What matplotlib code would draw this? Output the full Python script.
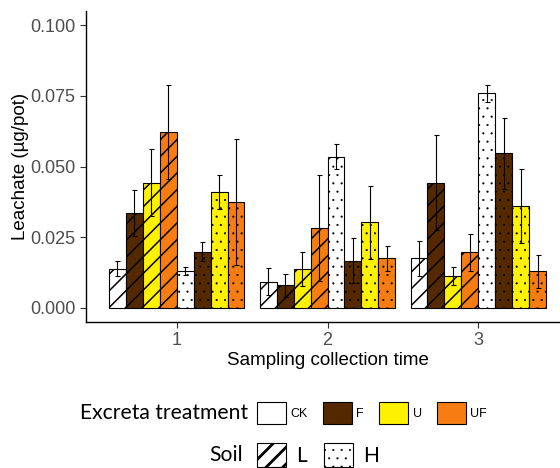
import matplotlib
matplotlib.use("Agg")
import matplotlib.pyplot as plt
from matplotlib.patches import Patch
import numpy as np

# sampling collection times
times = [1, 2, 3]
treatments = ["CK", "F", "U", "UF"]
soils = ["L", "H"]
colors = {"CK": "#ffffff", "F": "#552900", "U": "#fff200", "UF": "#f77d12"}
hatches = {"L": "//", "H": ".."}
hatch_lw = {"L": 1.1, "H": 0.3}
key_hatch_lw = {"L": 2.0, "H": 0.3}

# mean leachate (ug/pot), one list per treatment x soil, over the 3 times
means = {
    ("CK", "L"): [0.0139, 0.0092, 0.0176],
    ("F", "L"): [0.0335, 0.0080, 0.0443],
    ("U", "L"): [0.0443, 0.0136, 0.0113],
    ("UF", "L"): [0.0623, 0.0283, 0.0196],
    ("CK", "H"): [0.0132, 0.0535, 0.0759],
    ("F", "H"): [0.0199, 0.0167, 0.0547],
    ("U", "H"): [0.0410, 0.0302, 0.0360],
    ("UF", "H"): [0.0376, 0.0176, 0.0129],
}
errors = {
    ("CK", "L"): [0.0026, 0.0048, 0.0062],
    ("F", "L"): [0.0081, 0.0041, 0.0168],
    ("U", "L"): [0.0118, 0.0060, 0.0033],
    ("UF", "L"): [0.0167, 0.0187, 0.0065],
    ("CK", "H"): [0.0014, 0.0045, 0.0031],
    ("F", "H"): [0.0033, 0.0079, 0.0126],
    ("U", "H"): [0.0059, 0.0128, 0.0131],
    ("UF", "H"): [0.0223, 0.0044, 0.0057],
}

plt.rcParams["hatch.color"] = "black"
plt.rcParams["font.family"] = ["Liberation Sans", "DejaVu Sans"]


def set_hatch_lw(patch, lw):
    if hasattr(patch, "set_hatch_linewidth"):
        patch.set_hatch_linewidth(lw)
    else:
        patch._hatch_linewidth = lw


fig = plt.figure(figsize=(5.6, 4.68), dpi=100)
ax = fig.add_axes([86 / 560, 146 / 468, 483 / 560, 311 / 468])

width = 0.1125
order = [(t, s) for s in soils for t in treatments]
x = np.array(times, dtype=float)
for i, (t, s) in enumerate(order):
    pos = x + (i - 3.5) * width
    bars = ax.bar(pos, means[(t, s)], width=width, color=colors[t], edgecolor="black",
                  linewidth=0.8, hatch=hatches[s], zorder=2)
    for b in bars:
        set_hatch_lw(b, hatch_lw[s])
    ax.errorbar(pos, means[(t, s)], yerr=errors[(t, s)], fmt="none",
                ecolor="black", elinewidth=0.8, capsize=1.8, capthick=0.8, zorder=3)

ax.set_xlim(0.4, 3.6)
ax.set_ylim(-0.005, 0.105)
ax.set_xticks(times)
ax.set_yticks([0, 0.025, 0.05, 0.075, 0.1])
ax.set_yticklabels(["0.000", "0.025", "0.050", "0.075", "0.100"])
ax.tick_params(colors="#333333", labelcolor="#4d4d4d", labelsize=13, length=4, width=0.8)
for side in ["top", "right"]:
    ax.spines[side].set_visible(False)
for side in ["left", "bottom"]:
    ax.spines[side].set_linewidth(1.0)
ax.set_xlabel("Sampling collection time", fontsize=13.5, labelpad=2)
ax.set_ylabel("Leachate (µg/pot)", fontsize=13.5, labelpad=1)

# legends
trt_handles = [Patch(facecolor=colors[t], edgecolor="black", linewidth=0.8) for t in treatments]
leg1 = fig.legend(trt_handles, treatments, loc="center left", bbox_to_anchor=(257 / 560, 1 - 413 / 468),
                  ncol=4, frameon=False, prop={"family": "Liberation Sans", "size": 9},
                  handlelength=2.3, handleheight=2.4, handletextpad=0.35, columnspacing=1.25,
                  borderpad=0, borderaxespad=0)
soil_handles = [Patch(facecolor="white", edgecolor="black", linewidth=0.8, hatch=hatches[s]) for s in soils]
leg2 = fig.legend(soil_handles, soils, loc="center left", bbox_to_anchor=(257 / 560, 1 - 455 / 468),
                  ncol=2, frameon=False, prop={"family": "Lato", "size": 15},
                  handlelength=1.4, handleheight=1.4, handletextpad=0.5, columnspacing=0.8,
                  borderpad=0, borderaxespad=0)
for p, s in zip(leg2.get_patches(), soils):
    set_hatch_lw(p, key_hatch_lw[s])
fig.text(248 / 560, 1 - 413 / 468, "Excreta treatment", ha="right", va="center",
         family="Lato", fontsize=15.2)
fig.text(243 / 560, 1 - 455 / 468, "Soil", ha="right", va="center",
         family="Lato", fontsize=15.2)

fig.savefig("out.png", dpi=100)
